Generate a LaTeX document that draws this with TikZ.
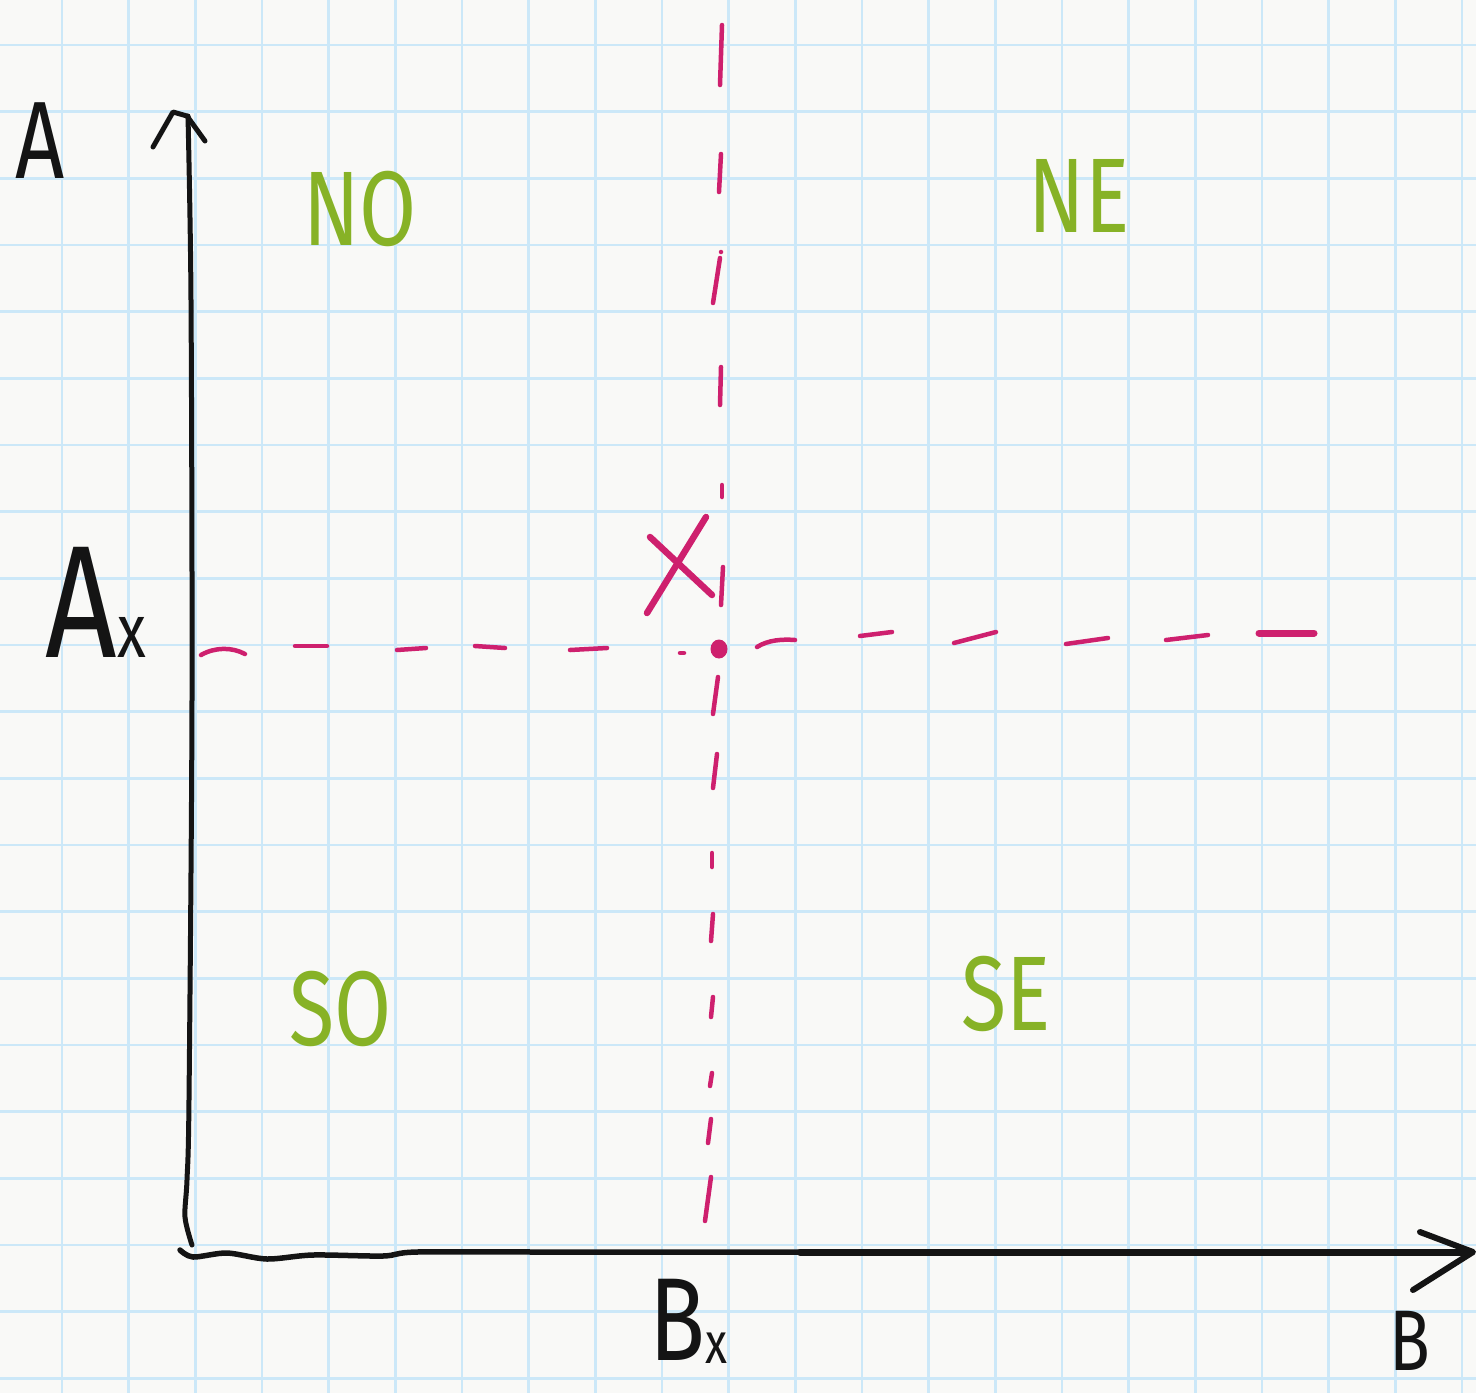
\documentclass[tikz,border=0pt]{standalone}
\usepackage{fontspec}
\newfontfamily\hand[FakeStretch=0.78]{Fira Sans}
\definecolor{paper}{RGB}{249,249,247}
\definecolor{gridblue}{RGB}{204,232,248}
\definecolor{mag}{RGB}{206,32,110}
\definecolor{leaf}{RGB}{135,178,38}
\definecolor{ink}{RGB}{20,20,20}
\tikzset{
  lbl/.style={inner sep=0pt, anchor=base, font=\hand, text=ink},
  zone/.style={inner sep=0pt, anchor=base, font={\hand\fontsize{106}{106}\selectfont}, text=leaf},
  guide/.style={draw=mag, line width=4.5pt, line cap=round},
  axis/.style={draw=ink, line width=5pt, line cap=round, line join=round},
  gridline/.style={draw=gridblue, line width=2.5pt},
}
\begin{document}
\begin{tikzpicture}[x=1pt,y=-1pt]
\useasboundingbox (0,0) rectangle (1476,1393);
\fill[paper] (0,0) rectangle (1476,1393);
\begin{scope}
  \clip (0,0) rectangle (1476,1393);
  \foreach \i in {0,...,22} \draw[gridline] ({-4.67+66.667*\i},0) -- ++(0,1393);
  \foreach \i in {0,...,21} \draw[gridline] (0,{-21.67+66.667*\i}) -- ++(1476,0);
\end{scope}

% vertical dashed guide
\foreach \a/\b/\c/\d in {722/25/720/85, 721/154/719/192, 720/258/713/303, 721/252/721/252,
  721/367/720/405, 722/485/722/497, 723/567/721/605, 718/677/713/714, 717/754/713/788,
  712/853/712/867, 713/914/711/941, 713/997/711/1017, 712/1073/710/1086,
  711/1119/708/1143, 711/1177/705/1221}
  \draw[guide] (\a,\b) -- (\c,\d);

% horizontal dashed guide
\draw[guide] (201,655) .. controls (215,647) and (232,647) .. (245,654);
\foreach \a/\b/\c/\d in {295/646/327/646, 397/650/426/648, 475/646/505/648, 570/650/607/648,
  680/653/684/653, 860/636/892/632, 954/643/996/632, 1066/644/1108/638, 1166/640/1208/635}
  \draw[guide] (\a,\b) -- (\c,\d);
\draw[guide] (757,647) .. controls (768,640) and (782,639) .. (795,640);
\draw[guide, line width=7pt] (1259,633) -- (1314,633);

% point and cross
\coordinate (P) at (719,649);
\fill[mag] (P) ellipse [x radius=8.5, y radius=9.5];
\draw[guide, line width=6.5pt] (647,613) -- (706,517);
\draw[guide, line width=6.5pt] (650,537) -- (712,595);

% axes
\draw[axis] plot[smooth] coordinates {(188,116) (191,300) (192,700) (189,1100) (187,1180) (185,1217) (192,1245)};
\draw[axis, line width=5.5pt] plot[smooth] coordinates {(180,1250) (193,1257) (227,1253) (267,1259) (313,1255) (383,1256) (417,1252) (550,1252) (900,1252) (1200,1252) (1470,1252)};
\draw[axis, line width=7pt] (800,1252) -- (1470,1252);
\draw[axis] (153,147) -- (173,112) -- (187,116) -- (205,141);
\draw[axis, line width=6pt] (1420,1232) -- (1473,1252) -- (1413,1290);

% labels
\node[lbl, font={\hand\fontsize{110}{110}\selectfont}] (labA) at (40,178) {A};
\node[lbl] (labAx) at (96,657) {\fontsize{160}{160}\selectfont A\fontsize{76}{76}\selectfont x};
\node[lbl, text depth=0pt] (labBx) at (688,1360) {\fontsize{118}{118}\selectfont B\raisebox{-3pt}{\fontsize{58}{58}\selectfont x}};
\node[lbl, text depth=0pt, font={\hand\fontsize{86}{86}\selectfont}] (labB) at (1410,1370) {B};

\node[zone] (no) at (360,245) {NO};
\node[zone] (ne) at (1079,232) {NE};
\node[zone] (so) at (341,1045) {SO};
\node[zone] (se) at (1006,1030) {SE};
\end{tikzpicture}
\end{document}
